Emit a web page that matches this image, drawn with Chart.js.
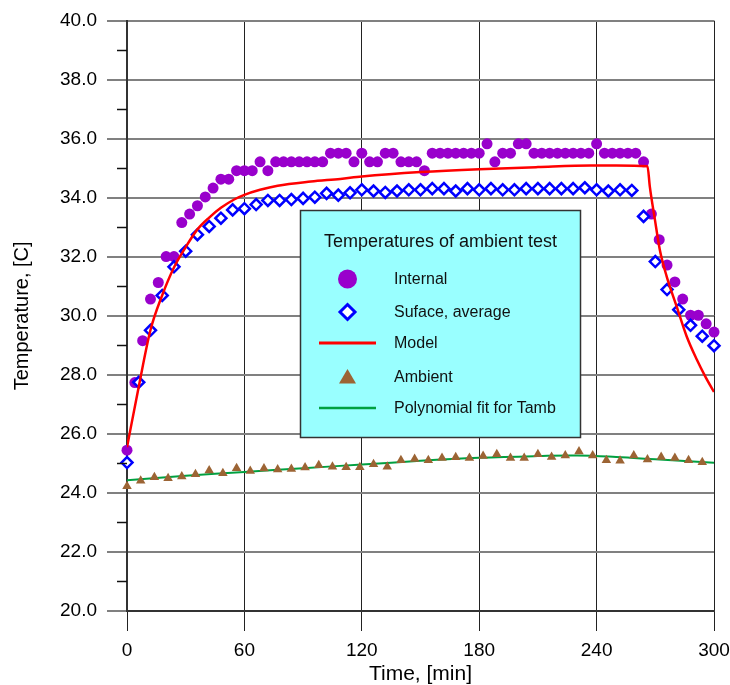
<!DOCTYPE html>
<html>
<head>
<meta charset="utf-8">
<script src="https://cdn.jsdelivr.net/npm/chart.js@4/dist/chart.umd.min.js"></script>
<style>
html,body{margin:0;padding:0;background:#fff}
#wrap{position:relative;width:730px;height:685px}
</style>
</head>
<body>
<div id="wrap"><canvas id="c" width="730" height="685"></canvas></div>
<script>
// ─── DATA ────────────────────────────────────────────────────
const internalTime=[0,4,8,12,16,20,24,28,32,36,40,44,48,52,56,60,64,68,72,76,80,84,88,92,96,100,104,108,112,116,120,124,128,132,136,140,144,148,152,156,160,164,168,172,176,180,184,188,192,196,200,204,208,212,216,220,224,228,232,236,240,244,248,252,256,260,264,268,272,276,280,284,288,292,296,300];
const internalTemp=[25.45,27.74,29.16,30.57,31.13,32.01,32.01,33.16,33.45,33.73,34.03,34.33,34.63,34.63,34.92,34.92,34.92,35.22,34.92,35.22,35.22,35.22,35.22,35.22,35.22,35.22,35.51,35.51,35.51,35.22,35.51,35.22,35.22,35.51,35.51,35.22,35.22,35.22,34.92,35.51,35.51,35.51,35.51,35.51,35.51,35.51,35.83,35.22,35.51,35.51,35.83,35.83,35.51,35.51,35.51,35.51,35.51,35.51,35.51,35.51,35.83,35.51,35.51,35.51,35.51,35.51,35.22,33.45,32.58,31.72,31.15,30.57,30.02,30.02,29.73,29.45];

const surfaceTime=[0,6,12,18,24,30,36,42,48,54,60,66,72,78,84,90,96,102,108,114,120,126,132,138,144,150,156,162,168,174,180,186,192,198,204,210,216,222,228,234,240,246,252,258,264,270,276,282,288,294,300];
const surfaceTemp=[25.03,27.75,29.51,30.69,31.66,32.19,32.75,33.03,33.31,33.59,33.63,33.77,33.91,33.91,33.94,33.98,34.02,34.15,34.09,34.17,34.27,34.23,34.18,34.23,34.27,34.27,34.31,34.31,34.23,34.31,34.27,34.31,34.27,34.27,34.31,34.31,34.31,34.31,34.31,34.34,34.27,34.23,34.27,34.25,33.37,31.84,30.89,30.21,29.68,29.31,28.99];

const modelTime=[0,6,12,18,24,30,36,42,48,55,60,68,77,94,109,120,150,180,210,237,250,266,267.2,269.8,272.3,275.8,280.9,286,291.2,295.5,300];
const modelTemp=[25.55,27.6,29.52,30.7,31.64,32.33,32.93,33.33,33.66,33.95,34.1,34.27,34.41,34.55,34.64,34.72,34.87,34.97,35.04,35.09,35.09,35.07,34.38,33.26,32.24,31.34,30.32,29.31,28.52,27.95,27.42];

const ambientTime=[0,7,14,21,28,35,42,49,56,63,70,77,84,91,98,105,112,119,126,133,140,147,154,161,168,175,182,189,196,203,210,217,224,231,238,245,252,259,266,273,280,287,294];
const ambientTemp=[24.23,24.41,24.53,24.50,24.56,24.63,24.76,24.67,24.84,24.74,24.83,24.79,24.81,24.86,24.94,24.89,24.87,24.87,24.97,24.89,25.11,25.15,25.11,25.18,25.21,25.18,25.25,25.31,25.18,25.18,25.31,25.22,25.27,25.40,25.27,25.11,25.09,25.27,25.13,25.22,25.18,25.11,25.04];

const polyTime=[0,30,60,90,120,150,180,210,230,250,270,300];
const polyTemp=[24.43,24.58,24.71,24.84,24.96,25.09,25.19,25.25,25.27,25.22,25.14,25.02];

const xTicks=[0,60,120,180,240,300];
const legendTitle='Temperatures of ambient test';
const legendItems=['Internal','Suface, average','Model','Ambient','Polynomial fit for Tamb'];

// ─── STYLE ───────────────────────────────────────────────────
const FONT='"Liberation Sans", Arial, sans-serif';
const C_INT='#9900CC',C_SURF='#0000FF',C_MODEL='#FF0000',C_AMB='#9C6434',C_POLY='#00A040';

const pts=(xs,ys)=>xs.map((x,i)=>({x,y:ys[i]}));

// minor ticks on the temperature axis (odd values)
const minorTicks={id:'minorTicks',
  afterDraw(chart){
    const y=chart.scales.y,ctx=chart.ctx,x0=chart.chartArea.left;
    ctx.save();ctx.strokeStyle='#111';ctx.lineWidth=1.5;
    for(let v=21;v<40;v+=2){const py=Math.round(y.getPixelForValue(v))+0.5;ctx.beginPath();ctx.moveTo(x0-10,py);ctx.lineTo(x0,py);ctx.stroke()}
    ctx.restore()}
};

// boxed legend drawn inside the plot
const boxLegend={id:'boxLegend',
  afterDraw(chart){
    const ctx=chart.ctx;
    const bx=300.5,by=210.5,bw=280,bh=227;
    ctx.save();
    ctx.fillStyle='#99FFFF';ctx.fillRect(bx,by,bw,bh);
    ctx.strokeStyle='#333';ctx.lineWidth=1.5;ctx.strokeRect(bx,by,bw,bh);
    ctx.fillStyle='#111';ctx.textBaseline='middle';
    ctx.font='18px '+FONT;ctx.textAlign='center';
    ctx.fillText(legendTitle,bx+bw/2,242);
    ctx.font='16px '+FONT;ctx.textAlign='left';
    const rows=[279,312,343,377,408],sx=347.5,tx=394;
    // Internal
    ctx.fillStyle=C_INT;ctx.beginPath();ctx.arc(sx,rows[0],9.5,0,Math.PI*2);ctx.fill();
    // Surface
    ctx.beginPath();ctx.moveTo(sx,rows[1]-7.5);ctx.lineTo(sx+7.5,rows[1]);ctx.lineTo(sx,rows[1]+7.5);ctx.lineTo(sx-7.5,rows[1]);ctx.closePath();
    ctx.fillStyle='#fff';ctx.fill();ctx.strokeStyle=C_SURF;ctx.lineWidth=3;ctx.stroke();
    // Model
    ctx.strokeStyle=C_MODEL;ctx.lineWidth=3;ctx.beginPath();ctx.moveTo(319,rows[2]);ctx.lineTo(376,rows[2]);ctx.stroke();
    // Ambient
    ctx.fillStyle=C_AMB;ctx.beginPath();ctx.moveTo(sx,rows[3]-8);ctx.lineTo(sx+8.5,rows[3]+6.5);ctx.lineTo(sx-8.5,rows[3]+6.5);ctx.closePath();ctx.fill();
    // Poly
    ctx.strokeStyle=C_POLY;ctx.lineWidth=2.5;ctx.beginPath();ctx.moveTo(319,rows[4]);ctx.lineTo(376,rows[4]);ctx.stroke();
    ctx.fillStyle='#111';
    legendItems.forEach((t,i)=>ctx.fillText(t,tx,rows[i]+1));
    ctx.restore()}
};

Chart.defaults.font.family=FONT;
Chart.defaults.color='#000';

new Chart(document.getElementById('c'),{
  type:'scatter',
  data:{datasets:[
    {label:legendItems[2],data:pts(modelTime,modelTemp),showLine:true,borderColor:C_MODEL,borderWidth:2.5,pointRadius:0,cubicInterpolationMode:'monotone',fill:false},
    {label:legendItems[1],data:pts(surfaceTime,surfaceTemp),pointStyle:'rectRot',pointRadius:5.5,backgroundColor:'#fff',borderColor:C_SURF,borderWidth:2.5,clip:false},
    {label:legendItems[0],data:pts(internalTime,internalTemp),pointStyle:'circle',pointRadius:5.5,backgroundColor:C_INT,borderWidth:0,clip:false},
    {label:legendItems[3],data:pts(ambientTime,ambientTemp),pointStyle:'triangle',pointRadius:5.5,backgroundColor:C_AMB,borderWidth:0,clip:false},
    {label:legendItems[4],data:pts(polyTime,polyTemp),showLine:true,borderColor:C_POLY,borderWidth:2,pointRadius:0,tension:0.4,fill:false}
  ]},
  options:{
    responsive:false,animation:false,events:[],
    layout:{padding:{top:20.7,right:16,left:0,bottom:0}},
    plugins:{legend:{display:false},tooltip:{enabled:false}},
    scales:{
      x:{type:'linear',min:0,max:300,
        afterBuildTicks:s=>{s.ticks=xTicks.map(v=>({value:v}))},
        afterFit:s=>{s.height=74;s.paddingLeft=0;s.paddingRight=0},
        grid:{color:'#222',lineWidth:1,tickLength:20,drawTicks:true},
        border:{color:'#333',width:2},
        ticks:{font:{size:19},color:'#000',padding:8,maxRotation:0},
        title:{display:true,text:'Time, [min]',font:{size:21,lineHeight:1},padding:{top:0,bottom:0},color:'#000'}},
      y:{min:20,max:40,
        afterFit:s=>{s.width=127;s.paddingTop=0;s.paddingBottom=0},
        grid:{color:'#808080',lineWidth:2,tickLength:20,drawTicks:true},
        border:{color:'#333',width:2},
        ticks:{stepSize:2,font:{size:19},color:'#000',padding:10,callback:v=>v.toFixed(1)},
        title:{display:true,text:'Temperature, [C]',font:{size:20,lineHeight:1},padding:{top:12,bottom:0},color:'#000'}}
    }
  },
  plugins:[minorTicks,boxLegend]
});
</script>
</body>
</html>
